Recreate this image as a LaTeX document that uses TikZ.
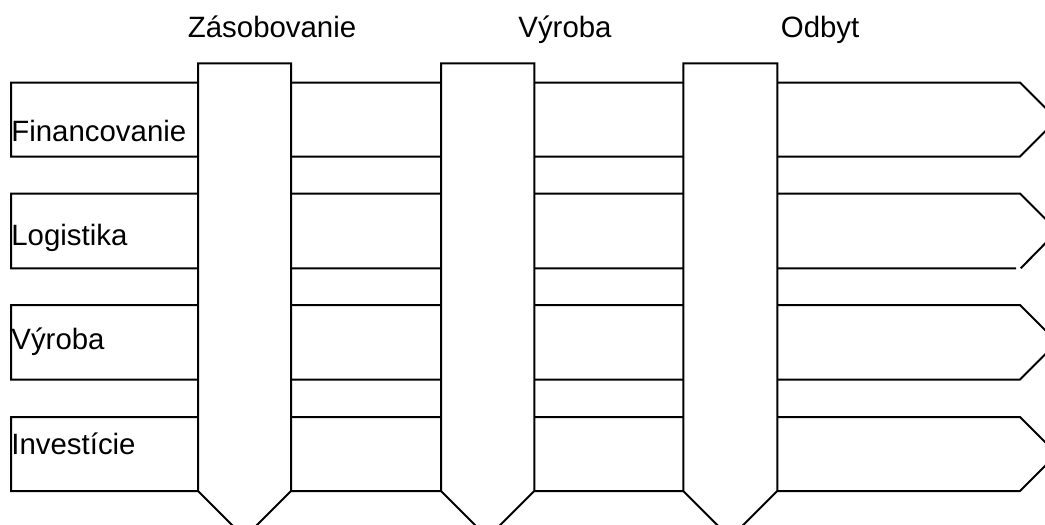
\documentclass[tikz,border=0pt]{standalone}
\usepackage{fontspec}
\setmainfont{Liberation Sans}
\begin{document}
\begin{tikzpicture}[x=0.5pt,y=-0.5pt,
  band/.style={draw=black,line width=1pt,fill=white,line join=miter},
  lbl/.style={inner sep=0pt,anchor=base west,font=\fontsize{14.7}{17}\selectfont}]
\useasboundingbox (0,0) rectangle (1045,525);
\clip (0,0) rectangle (1045,525);
% horizontal bands (rows)
\foreach \t/\b in {82.5/156.5,305/379.5,417/491}{
  \draw[band] (11,\t) -- (1020,\t) -- ({1020+(\b-\t)/2},{(\t+\b)/2}) -- (1020,\b) -- (11,\b) -- cycle;
}
% second row (with its slightly broken lower corner)
\fill[white] (11,193.5) -- (1020,193.5) -- (1057,231) -- (1020,268.3) -- (11,268.3) -- cycle;
\draw[band,fill=none] (1016,268.3) -- (11,268.3) -- (11,193.5) -- (1020,193.5) -- (1057.4,231) -- (1020.7,268.3);
% vertical bands (columns)
\foreach \l/\r in {198/291,441/534.3,683.3/777.3}{
  \draw[band] (\l,63.3) -- (\r,63.3) -- (\r,491) -- ({(\l+\r)/2},{491+(\r-\l)/2}) -- (\l,491) -- cycle;
}
% column labels
\node[lbl] (zas) at (187.5,37.2) {Zásobovanie};
\node[lbl] (vyr) at (518,37.2) {Výroba};
\node[lbl] (odb) at (780.5,37) {Odbyt};
% row labels
\node[lbl] (fin) at (11,141.7) {Financovanie};
\node[lbl] (log) at (11,245) {Logistika};
\node[lbl] (vyr2) at (11,349) {Výroba};
\node[lbl] (inv) at (11,454.3) {Investície};
\end{tikzpicture}
\end{document}
